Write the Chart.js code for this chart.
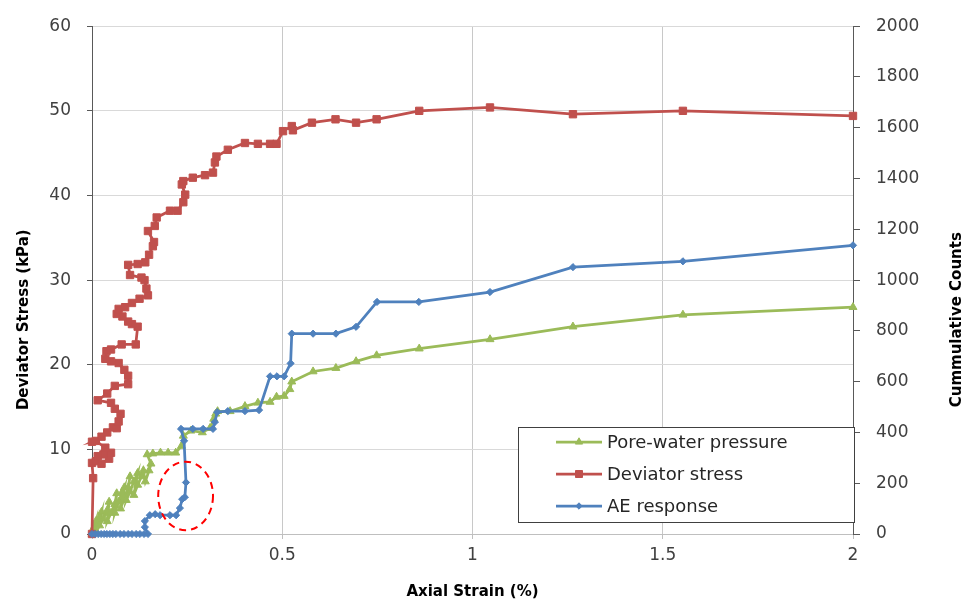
<!DOCTYPE html>
<html>
<head>
<meta charset="utf-8">
<script src="https://cdn.jsdelivr.net/npm/chart.js@4.4.0/dist/chart.umd.min.js"></script>
<style>
html,body{margin:0;padding:0;background:#fff;}
#wrap{width:965px;height:600px;position:relative;}
</style>
</head>
<body>
<div id="wrap"><canvas id="c" width="965" height="600"></canvas></div>
<script>
// ---------- DATA ----------
const seriesLabels = ['Pore-water pressure', 'Deviator stress', 'AE response'];

const pwpStrain = [0,0.005,0.01,0.008,0.015,0.02,0.025,0.02,0.03,0.04,0.045,0.04,0.05,0.06,0.065,0.06,0.07,0.08,0.085,0.075,0.085,0.095,0.1,0.09,0.1,0.11,0.12,0.11,0.12,0.13,0.135,0.14,0.15,0.155,0.145,0.16,0.18,0.2,0.22,0.235,0.24,0.26,0.29,0.31,0.32,0.325,0.33,0.363,0.402,0.436,0.468,0.485,0.505,0.52,0.525,0.581,0.641,0.694,0.748,0.86,1.046,1.264,1.553,2.0];
const pwpValues = [0,0.8,1.5,0.5,1.2,2.0,2.6,1.0,1.8,2.8,3.8,1.5,2.5,3.5,4.8,2.5,3.8,5.0,5.5,3.0,4.2,5.5,6.8,4.0,5.0,6.2,7.2,4.6,5.8,6.8,7.5,6.2,7.5,8.3,9.4,9.5,9.6,9.6,9.6,10.4,11.6,12.2,12.0,12.5,13.6,14.2,14.5,14.5,15.1,15.5,15.6,16.2,16.3,17.1,18.0,19.2,19.6,20.4,21.1,21.9,23.0,24.5,25.9,26.8];

const devStrain = [0,0.003,0.0,0.01,0.025,0.045,0.05,0.03,0.015,0.035,0.01,0.0,0.025,0.04,0.055,0.065,0.07,0.075,0.06,0.05,0.015,0.04,0.06,0.095,0.095,0.085,0.07,0.05,0.035,0.038,0.05,0.078,0.115,0.12,0.105,0.095,0.08,0.065,0.07,0.087,0.105,0.125,0.147,0.143,0.138,0.13,0.1,0.095,0.12,0.14,0.15,0.16,0.163,0.147,0.165,0.17,0.205,0.225,0.24,0.245,0.236,0.24,0.265,0.297,0.318,0.323,0.327,0.357,0.402,0.436,0.468,0.485,0.502,0.525,0.528,0.578,0.64,0.694,0.748,0.86,1.046,1.264,1.553,2.0];
const devValues = [0,6.6,8.4,8.6,8.3,8.9,9.6,9.4,9.2,10.2,11.0,10.9,11.5,12.0,12.6,12.5,13.3,14.2,14.8,15.5,15.8,16.6,17.5,17.7,18.7,19.4,20.2,20.4,20.7,21.6,21.8,22.4,22.4,24.5,24.8,25.1,25.7,26.0,26.6,26.8,27.3,27.8,28.2,29.0,30.0,30.3,30.6,31.8,31.9,32.1,33.0,34.0,34.5,35.8,36.4,37.4,38.2,38.2,39.2,40.1,41.3,41.7,42.1,42.4,42.7,43.9,44.6,45.4,46.2,46.1,46.1,46.1,47.6,48.2,47.7,48.6,49.0,48.6,49.0,50.0,50.4,49.6,50.0,49.4];

const aeStrain = [0,0.008,0.016,0.024,0.032,0.039,0.047,0.055,0.063,0.074,0.084,0.095,0.105,0.116,0.126,0.137,0.147,0.139,0.139,0.152,0.166,0.179,0.205,0.221,0.231,0.237,0.244,0.247,0.242,0.234,0.265,0.292,0.318,0.323,0.329,0.357,0.402,0.439,0.468,0.486,0.505,0.522,0.525,0.581,0.641,0.694,0.749,0.859,1.046,1.264,1.553,2.0];
const aeCounts = [0,0,0,0,0,0,0,0,0,0,0,0,0,0,0,0,0,27,51,74,78,74,74,74,102,137,145,203,367,414,414,414,414,441,480,484,484,488,621,621,621,672,789,789,789,816,914,914,953,1051,1074,1137];

const xTickLabels = ['0', '0.5', '1', '1.5', '2'];
const xTitle = 'Axial Strain (%)';
const yTitle = 'Deviator Stress (kPa)';
const y2Title = 'Cummulative Counts';

// highlighted region (strain, kPa) and its half-extent
const ellipseCenter = [0.246, 4.5];
const ellipseHalf = [0.072, 4.05];

// ---------- CHART ----------
const pts = (xs, ys) => xs.map((v, i) => ({x: v, y: ys[i]}));
const COLORS = ['#9BBB59', '#C0504D', '#4F81BD'];
const STYLES = ['triangle', 'rect', 'rectRot'];
const TICK_FONT = {family: 'DejaVu Sans', size: 17};
const TITLE_FONT = {family: 'DejaVu Sans', size: 15, weight: 'bold', lineHeight: 1};

function marker(ctx, style, x, y, color) {
  ctx.save();
  ctx.fillStyle = color; ctx.strokeStyle = color; ctx.lineWidth = 1;
  ctx.beginPath();
  if (style === 'triangle') {
    const r = 4.2;
    ctx.moveTo(x, y - r);
    ctx.lineTo(x + r * 0.866, y + r * 0.5);
    ctx.lineTo(x - r * 0.866, y + r * 0.5);
    ctx.closePath();
  } else if (style === 'rect') {
    ctx.rect(x - 3.5, y - 3.5, 7, 7);
  } else {
    const r = 3.2;
    ctx.moveTo(x, y - r); ctx.lineTo(x + r, y); ctx.lineTo(x, y + r); ctx.lineTo(x - r, y); ctx.closePath();
  }
  ctx.fill(); ctx.stroke();
  ctx.restore();
}

const overlay = {
  id: 'overlay',
  afterDatasetsDraw(chart) {
    const {ctx, scales: {x, y}} = chart;
    const cx = x.getPixelForValue(ellipseCenter[0]);
    const cy = y.getPixelForValue(ellipseCenter[1]);
    const rx = Math.abs(x.getPixelForValue(ellipseCenter[0] + ellipseHalf[0]) - cx);
    const ry = Math.abs(y.getPixelForValue(ellipseCenter[1] + ellipseHalf[1]) - cy);
    ctx.save();
    ctx.setLineDash([7, 5]);
    ctx.strokeStyle = '#FF0000';
    ctx.lineWidth = 2;
    ctx.beginPath();
    ctx.ellipse(cx, cy, rx, ry, 0, 0, Math.PI * 2);
    ctx.stroke();
    ctx.restore();
  },
  afterDraw(chart) {
    const {ctx, chartArea} = chart;
    // vertical axis titles (both read bottom-to-top)
    const midY = chartArea.top + (chartArea.bottom - chartArea.top) * 0.578;
    ctx.save();
    ctx.font = 'bold 15px "DejaVu Sans"';
    ctx.fillStyle = '#000';
    ctx.textAlign = 'center';
    ctx.textBaseline = 'middle';
    [[24, yTitle], [chart.width - 8, y2Title]].forEach(([tx, t]) => {
      ctx.save();
      ctx.translate(tx, midY);
      ctx.rotate(-Math.PI / 2);
      ctx.fillText(t, 0, 0);
      ctx.restore();
    });
    ctx.restore();

    // legend box
    const bx = 518, by = 427, bw = 336, bh = 95;
    ctx.save();
    ctx.fillStyle = '#fff';
    ctx.fillRect(bx, by, bw, bh);
    ctx.strokeStyle = '#404040';
    ctx.lineWidth = 1;
    ctx.strokeRect(bx + 0.5, by + 0.5, bw, bh);
    ctx.font = '18px "DejaVu Sans"';
    ctx.textBaseline = 'middle';
    ctx.textAlign = 'left';
    chart.data.datasets.forEach((ds, i) => {
      const ly = by + 15 + i * 32;
      ctx.strokeStyle = ds.borderColor;
      ctx.lineWidth = 2.75;
      ctx.beginPath();
      ctx.moveTo(556, ly); ctx.lineTo(602, ly);
      ctx.stroke();
      marker(ctx, ds.pointStyle, 579, ly, ds.borderColor);
      ctx.fillStyle = '#262626';
      ctx.fillText(ds.label, 607, ly + 1);
    });
    ctx.restore();
  }
};

const datasets = [
  {data: pts(pwpStrain, pwpValues), yAxisID: 'y', order: 2, pointRadius: 4.6},
  {data: pts(devStrain, devValues), yAxisID: 'y', order: 1, pointRadius: 5.2},
  {data: pts(aeStrain, aeCounts), yAxisID: 'y2', order: 0, pointRadius: 3.6}
].map((d, i) => Object.assign(d, {
  label: seriesLabels[i],
  borderColor: COLORS[i],
  backgroundColor: COLORS[i],
  pointBackgroundColor: COLORS[i],
  pointBorderColor: COLORS[i],
  pointStyle: STYLES[i],
  pointBorderWidth: 1,
  borderWidth: 2.75,
  showLine: true,
  tension: 0,
  clip: false
}));

new Chart(document.getElementById('c'), {
  type: 'scatter',
  data: {datasets},
  options: {
    responsive: false,
    animation: false,
    devicePixelRatio: 1,
    layout: {padding: {top: 22, left: 0, right: 0, bottom: 0}},
    plugins: {legend: {display: false}, tooltip: {enabled: false}},
    scales: {
      x: {
        type: 'linear', min: 0, max: 2,
        ticks: {
          stepSize: 0.5, font: TICK_FONT, color: '#404040', padding: 6, maxRotation: 0,
          callback: (v) => xTickLabels[Math.round(v * 2)]
        },
        grid: {
          color: (c) => (c.tick && (c.tick.value === 0 || c.tick.value === 2)) ? 'rgba(0,0,0,0)' : '#c8c8c8',
          tickColor: '#bfbfbf', tickLength: 5, lineWidth: 1
        },
        border: {color: '#bfbfbf', width: 1},
        title: {display: true, text: xTitle, font: TITLE_FONT, color: '#000', padding: {top: 0, bottom: 0}},
        afterFit: (s) => { s.height = 66; }
      },
      y: {
        type: 'linear', position: 'left', min: 0, max: 60,
        ticks: {stepSize: 10, font: TICK_FONT, color: '#404040', padding: 16},
        grid: {color: '#d9d9d9', tickColor: '#595959', tickLength: 5, lineWidth: 1},
        border: {color: '#595959', width: 1},
        afterFit: (s) => { s.width = 92; }
      },
      y2: {
        type: 'linear', position: 'right', min: 0, max: 2000,
        ticks: {stepSize: 200, font: TICK_FONT, color: '#404040', padding: 16, callback: (v) => String(v)},
        grid: {drawOnChartArea: false, tickColor: '#595959', tickLength: 7},
        border: {color: '#595959', width: 1},
        afterFit: (s) => { s.width = 112; }
      }
    }
  },
  plugins: [overlay]
});
</script>
</body>
</html>
